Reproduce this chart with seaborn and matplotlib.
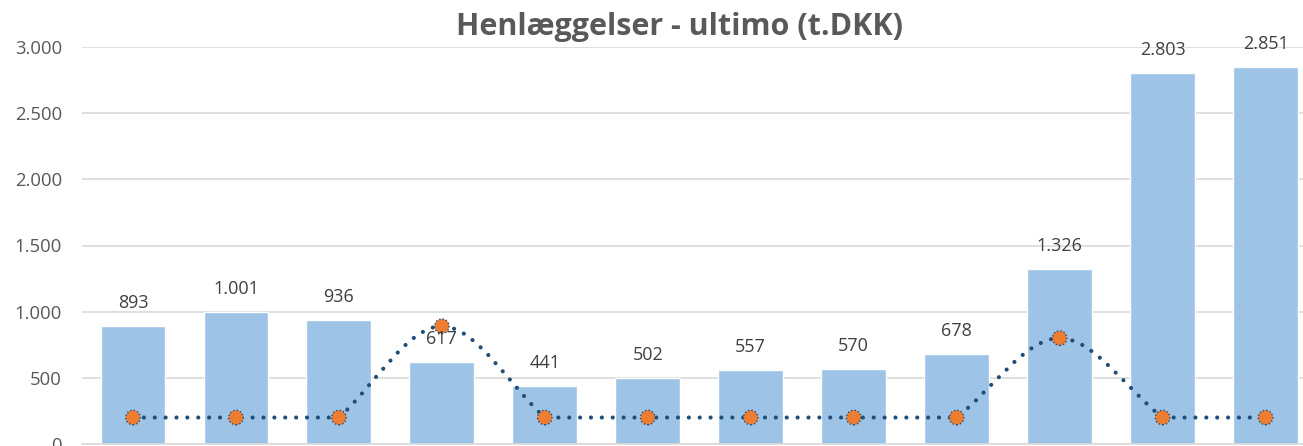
import numpy as np
import pandas as pd
import matplotlib
matplotlib.use("Agg")
import matplotlib.pyplot as plt
import seaborn as sns
from matplotlib.path import Path
from matplotlib.patches import PathPatch

categories = [f"P{i+1}" for i in range(12)]
balances = [893, 1001, 936, 617, 441, 502, 557, 570, 678, 1326, 2803, 2851]
line_values = [200, 200, 200, 890, 200, 200, 200, 200, 200, 800, 200, 200]
y_ticks = [0, 500, 1000, 1500, 2000, 2500, 3000]
title = "Henlæggelser - ultimo (t.DKK)"

sns.set_theme(style="white")
plt.rcParams["font.family"] = ["Open Sans", "DejaVu Sans"]

W, H = 1303, 446
fig = plt.figure(figsize=(W / 100, H / 100), dpi=100)
ax = fig.add_axes([81.5 / W, (H - 444) / H, 1235.5 / W, 397 / H])

df = pd.DataFrame({"cat": categories, "val": balances, "line": line_values})
sns.barplot(data=df, x="cat", y="val", color="#9DC3E6", saturation=1,
            width=0.63, ax=ax, zorder=2)

# smoothed line (Excel-style smoothing) through the data points
x = np.arange(len(line_values), dtype=float)
y = np.array(line_values, dtype=float)
n = len(x)


def tangent(i, j):
    """slope at point i for the segment towards point j"""
    prev_y = y[i - 1] if i > 0 else y[i]
    next_y = y[i + 1] if i < n - 1 else y[i]
    is_peak = (y[i] > prev_y and y[i] > next_y) or (y[i] < prev_y and y[i] < next_y)
    if is_peak:
        return 0.0
    return (y[j] - y[i]) / (x[j] - x[i])


verts = [(x[0], y[0])]
codes = [Path.MOVETO]
for i in range(n - 1):
    if y[i] == y[i + 1]:
        verts.append((x[i + 1], y[i + 1]))
        codes.append(Path.LINETO)
        continue
    dx = (x[i + 1] - x[i]) / 3.0
    m1 = tangent(i, i + 1)
    m2 = tangent(i + 1, i)
    c1 = (x[i] + dx, y[i] + m1 * dx)
    c2 = (x[i + 1] - dx, y[i + 1] - m2 * dx)
    verts += [c1, c2, (x[i + 1], y[i + 1])]
    codes += [Path.CURVE4] * 3
patch = PathPatch(Path(verts, codes), facecolor="none", edgecolor="#1F4E79",
                  linewidth=3.0, linestyle=(0, (0.01, 2.6)), capstyle="round",
                  zorder=3)
ax.add_patch(patch)

sns.scatterplot(data=df, x="cat", y="line", ax=ax, s=110, color="#ED7D31",
                edgecolor="#1F4E79", linewidth=1.0, zorder=4, legend=False)
for coll in ax.collections:
    coll.set_linestyle((0, (1, 1.5)))

for i, v in enumerate(balances):
    ax.annotate(f"{v:,}".replace(",", "."), (i, v), xytext=(0, 10),
                textcoords="offset points", ha="center", va="bottom",
                fontsize=13, color="#404040", zorder=5)

ax.set_ylim(0, 3000)
ax.set_xlim(-0.5, len(categories) - 0.5)
ax.set_yticks(y_ticks)
ax.set_yticklabels([f"{t:,}".replace(",", ".") for t in y_ticks])
ax.tick_params(axis="y", labelsize=13.3, labelcolor="#595959", length=0, pad=14)
ax.tick_params(axis="x", length=0, labelbottom=False)
ax.set_xlabel("")
ax.set_ylabel("")
ax.grid(axis="y", color="#D9D9D9", linewidth=1.2, zorder=0)
ax.set_axisbelow(True)
for s in ["top", "right", "left"]:
    ax.spines[s].set_visible(False)
ax.spines["bottom"].set_color("#D9D9D9")
ax.spines["bottom"].set_linewidth(1.2)

fig.text(680 / W, 1 - 27 / H, title, ha="center", va="center",
         fontsize=22, fontweight="bold", color="#595959")

fig.savefig("out.png", dpi=100)
